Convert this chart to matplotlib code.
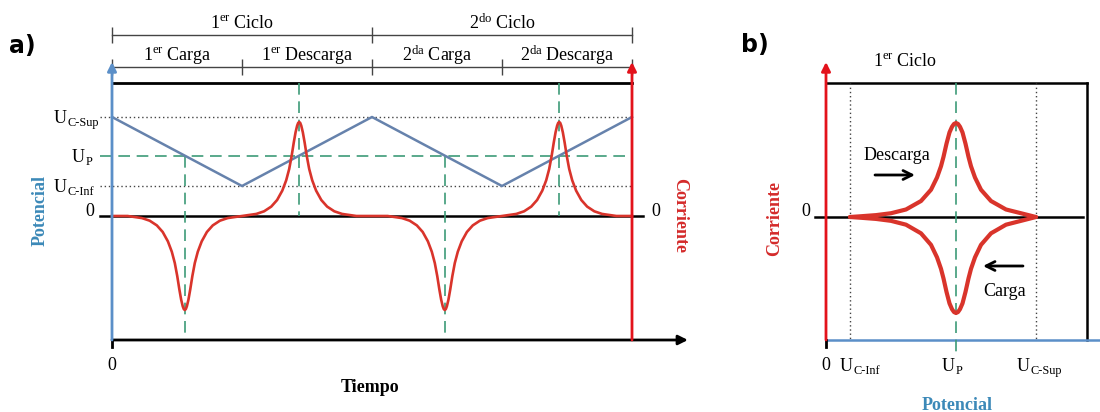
import matplotlib.pyplot as plt

plt.rcParams['font.family'] = 'Liberation Serif'
plt.rcParams['mathtext.fontset'] = 'custom'
plt.rcParams['mathtext.rm'] = 'Liberation Serif'
plt.rcParams['mathtext.it'] = 'Liberation Serif:italic'
plt.rcParams['mathtext.bf'] = 'Liberation Serif:bold'

# ---- data, panel a (time in half-cycles, potential / current in arbitrary units)
cycle_bounds = [0, 2, 4]
cycle_labels = ['1$^{\\mathrm{er}}$ Ciclo', '2$^{\\mathrm{do}}$ Ciclo']
phase_bounds = [0, 1, 2, 3, 4]
phase_labels = ['1$^{\\mathrm{er}}$ Carga', '1$^{\\mathrm{er}}$ Descarga',
                '2$^{\\mathrm{da}}$ Carga', '2$^{\\mathrm{da}}$ Descarga']
u_inf, u_p, u_sup = 3.0, 6.0, 9.9
pot_t = [0, 1, 2, 3, 4]
pot_v = [9.9, 3.0, 9.9, 3.0, 9.9]
peak_t = [0.56, 1.44, 2.56, 3.44]
peak_i = [-9.4, 9.4, -9.4, 9.4]
# peak shape: distance from centre -> fraction of height
profile_dt = [0, 0.008, 0.016, 0.028, 0.042, 0.058, 0.077, 0.10, 0.13, 0.17,
              0.215, 0.27, 0.33, 0.40, 0.44]
profile_fr = [1, 0.99, 0.96, 0.89, 0.78, 0.64, 0.50, 0.38, 0.27, 0.17,
              0.10, 0.05, 0.022, 0.008, 0]

# ---- data, panel b (potential on x)
ub_inf, ub_p, ub_sup = 2.4, 13.0, 21.0
peak_b = [9.4, -9.6]
profile_b_dx = [0, 0.2, 0.4, 0.65, 0.95, 1.25, 1.5, 1.9, 2.5, 3.5, 5.0, 6.5,
                8.0, 9.5]
profile_b_fr = [1, 0.99, 0.96, 0.90, 0.78, 0.64, 0.54, 0.42, 0.29, 0.17,
                0.08, 0.04, 0.02, 0.008]

BLUE_AX = '#5B8FC8'
BLUE_LN = '#6682AC'
BLUE_TX = '#3C89B8'
RED_AX = '#E3121B'
RED_LN = '#D9342B'
RED_TX = '#D42A2A'
GREEN = '#3D9B78'
DOT = '#444444'

fig = plt.figure(figsize=(11, 4.12), dpi=100)


def sub_label(ax, x, y, main, sub, size=13):
    # main letter ends at x, subscript starts at x
    ax.annotate(main, (x, y), xytext=(0, -4.5), textcoords='offset points',
                ha='right', va='baseline', fontsize=size)
    ax.annotate(sub, (x, y), xytext=(0.5, -6.8), textcoords='offset points',
                ha='left', va='baseline', fontsize=size * 0.68)


def arrow(ax, start, end, color, lw=2, scale=14, style='-|>'):
    ax.annotate('', xy=end, xytext=start,
                arrowprops=dict(arrowstyle=style, color=color, lw=lw,
                                mutation_scale=scale, shrinkA=0, shrinkB=0))


# ================= panel a =================
ax = fig.add_axes([0, 0, 720 / 1100, 1])
ax.set_xlim(-112 / 130, (720 - 112) / 130)
ax.set_ylim(-19.6, 21.6)
ax.axis('off')

top, bot = 13.3, -12.4

# header brackets
ax.plot([cycle_bounds[0], cycle_bounds[-1]], [18.1, 18.1], color='#444', lw=1)
ax.plot(cycle_bounds, [18.1] * len(cycle_bounds), ls='none', marker='|',
        ms=11, mew=1, color='#444')
ax.plot([phase_bounds[0], phase_bounds[-1]], [14.9, 14.9], color='#444', lw=1)
ax.plot(phase_bounds, [14.9] * len(phase_bounds), ls='none', marker='|',
        ms=11, mew=1, color='#444')
for k, lab in enumerate(cycle_labels):
    mid = (cycle_bounds[k] + cycle_bounds[k + 1]) / 2
    ax.text(mid, 19.3, lab, ha='center', va='center', fontsize=13)
for k, lab in enumerate(phase_labels):
    mid = (phase_bounds[k] + phase_bounds[k + 1]) / 2
    ax.text(mid, 16.1, lab, ha='center', va='center', fontsize=13)

# frame
ax.plot([0, 4], [top, top], color='black', lw=2)
arrow(ax, (0, bot), (4.43, bot), 'black', lw=2, scale=14)
ax.plot([0, 0], [bot, bot - 0.7], color='black', lw=2)
ax.plot([-0.092, 4.085], [0, 0], color='black', lw=1.8)

# reference levels
ax.plot([-0.092, 4], [u_sup, u_sup], color=DOT, lw=1, ls=(0, (1, 2)))
ax.plot([-0.092, 4], [u_inf, u_inf], color=DOT, lw=1, ls=(0, (1, 2)))
ax.plot([-0.092, 4], [u_p, u_p], color=GREEN, lw=1.2, ls=(0, (7, 4)))
for c, a in zip(peak_t, peak_i):
    if a < 0:
        ax.plot([c, c], [u_p, bot], color=GREEN, lw=1.2, ls=(0, (7, 4)))
    else:
        ax.plot([c, c], [top, 0], color=GREEN, lw=1.2, ls=(0, (7, 4)))

# potential
ax.plot(pot_t, pot_v, color=BLUE_LN, lw=1.8)

# current
t_cur, i_cur = [0], [0]
for c, a in zip(peak_t, peak_i):
    for d, f in zip(profile_dt[::-1], profile_fr[::-1]):
        t_cur.append(c - d)
        i_cur.append(a * f)
    for d, f in zip(profile_dt[1:], profile_fr[1:]):
        t_cur.append(c + d)
        i_cur.append(a * f)
t_cur.append(4)
i_cur.append(0)
ax.plot(t_cur, i_cur, color=RED_LN, lw=1.9, solid_joinstyle='round')

# axes arrows
arrow(ax, (0, bot), (0, 15.4), BLUE_AX, lw=2, scale=13)
arrow(ax, (4, bot), (4, 15.4), RED_AX, lw=2, scale=13)

# labels
sub_label(ax, -0.347, u_sup, 'U', 'C-Sup')
sub_label(ax, -0.208, u_p, 'U', 'P')
sub_label(ax, -0.347, u_inf, 'U', 'C-Inf')
ax.text(-0.14, 0.4, '0', ha='right', va='center', fontsize=13)
ax.text(4.18, 0.4, '0', ha='center', va='center', fontsize=13)
ax.text(0, -14.9, '0', ha='center', va='center', fontsize=13)
ax.text(1.985, -17.2, 'Tiempo', ha='center', va='center', fontsize=13,
        fontweight='bold')
ax.text(-0.554, 0.6, 'Potencial', ha='center', va='center', fontsize=13,
        fontweight='bold', color=BLUE_TX, rotation=90)
ax.text(4.37, 0.1, 'Corriente', ha='center', va='center', fontsize=13,
        fontweight='bold', color=RED_TX, rotation=270)
ax.text(-0.69, 17.0, 'a)', ha='center', va='center', fontsize=17,
        fontweight='bold', family='DejaVu Sans')

# ================= panel b =================
bx = fig.add_axes([720 / 1100, 0, 380 / 1100, 1])
bx.set_xlim(-10.6, 27.4)
bx.set_ylim(-19.5, 21.7)
bx.axis('off')

topb, botb, rightb = 13.4, -12.3, 26.1

bx.plot([0, rightb], [topb, topb], color='black', lw=1.8)
bx.plot([rightb, rightb], [topb, botb], color='black', lw=1.8)
bx.plot([0, 27.4], [botb, botb], color=BLUE_AX, lw=1.8)
bx.plot([0, 0], [botb, botb - 0.7], color='black', lw=2)
bx.plot([-1.1, 25.7], [0, 0], color='black', lw=1.8)

bx.plot([ub_inf, ub_inf], [topb, botb], color=DOT, lw=1, ls=(0, (1, 2)))
bx.plot([ub_sup, ub_sup], [topb, botb], color=DOT, lw=1, ls=(0, (1, 2)))
bx.plot([ub_p, ub_p], [topb, -13.8], color=GREEN, lw=1.2, ls=(0, (7, 4)))

for a in peak_b:
    xs, ys = [ub_inf], [0]
    for d, f in zip(profile_b_dx[::-1], profile_b_fr[::-1]):
        if ub_p - d > ub_inf:
            xs.append(ub_p - d)
            ys.append(a * f)
    for d, f in zip(profile_b_dx[1:], profile_b_fr[1:]):
        if ub_p + d < ub_sup:
            xs.append(ub_p + d)
            ys.append(a * f)
    xs.append(ub_sup)
    ys.append(0)
    bx.plot(xs, ys, color=RED_LN, lw=3, solid_joinstyle='round',
            solid_capstyle='round')

arrow(bx, (0, botb), (0, 15.5), RED_AX, lw=2, scale=13)

arrow(bx, (4.9, 4.2), (8.9, 4.2), 'black', lw=2, scale=16, style='->')
arrow(bx, (19.7, -4.9), (15.7, -4.9), 'black', lw=2, scale=16, style='->')
bx.text(7.1, 6.2, 'Descarga', ha='center', va='center', fontsize=13)
bx.text(17.9, -7.5, 'Carga', ha='center', va='center', fontsize=13)
bx.text(7.9, 15.5, '1$^{\\mathrm{er}}$ Ciclo', ha='center', va='center',
        fontsize=13)
bx.text(-2.0, 0.5, '0', ha='center', va='center', fontsize=13)
bx.text(0, -14.8, '0', ha='center', va='center', fontsize=13)
sub_label(bx, 2.7, -14.8, 'U', 'C-Inf')
sub_label(bx, 12.9, -14.8, 'U', 'P')
sub_label(bx, 20.4, -14.8, 'U', 'C-Sup')
bx.text(13.1, -18.8, 'Potencial', ha='center', va='center', fontsize=13,
        fontweight='bold', color=BLUE_TX)
bx.text(-5.1, -0.1, 'Corriente', ha='center', va='center', fontsize=13,
        fontweight='bold', color=RED_TX, rotation=90)
bx.text(-7.1, 17.2, 'b)', ha='center', va='center', fontsize=17,
        fontweight='bold', family='DejaVu Sans')

fig.savefig('out.png', dpi=100)
